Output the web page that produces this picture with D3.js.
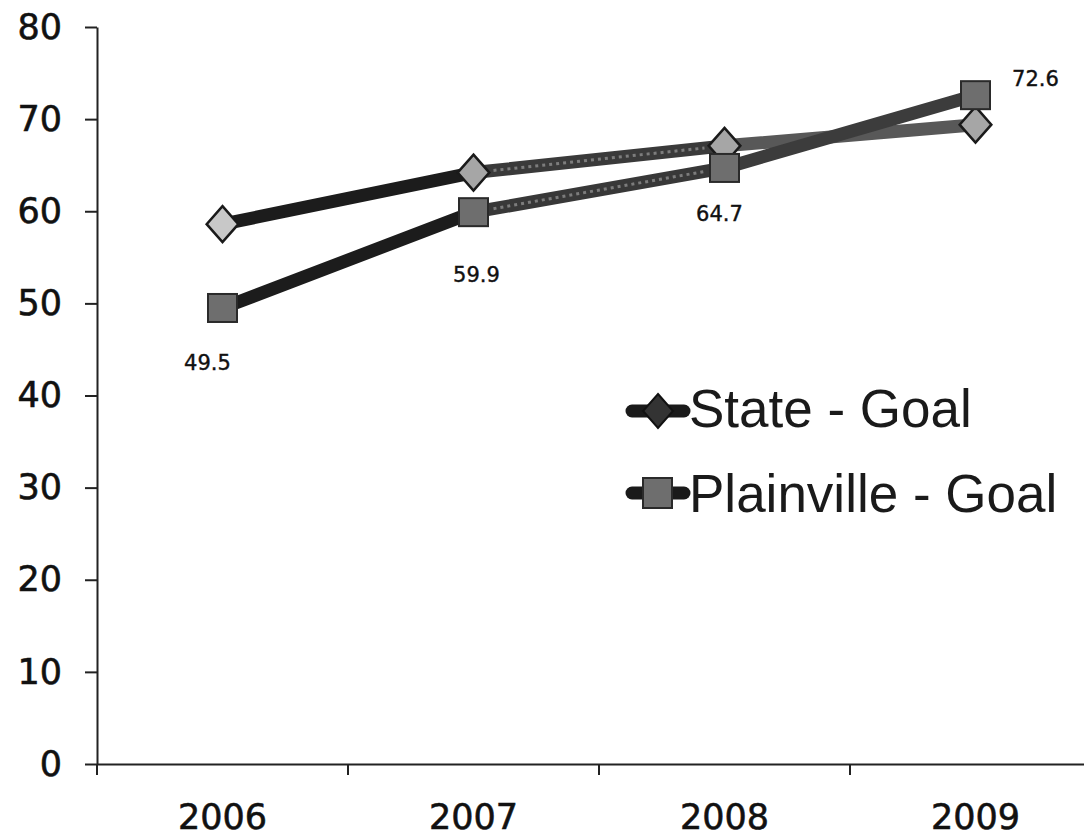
<!DOCTYPE html>
<html>
<head>
<meta charset="utf-8">
<script src="https://cdn.jsdelivr.net/npm/d3@7"></script>
<style>
  html, body { margin: 0; padding: 0; background: #ffffff; }
  svg { display: block; }
</style>
</head>
<body>
<script>
// ---- Data ----
const years = ["2006", "2007", "2008", "2009"];
const stateGoal = [58.6, 64.2, 67.1, 69.4];
const plainvilleGoal = [49.5, 59.9, 64.7, 72.6];
const yTicks = [0, 10, 20, 30, 40, 50, 60, 70, 80];
const seriesNames = ["State - Goal", "Plainville - Goal"];

// ---- Layout ----
const W = 1084, H = 840;
const svg = d3.select("body").append("svg").attr("width", W).attr("height", H);

const x = d3.scaleBand().domain(years).range([97, 1101]);
const y = d3.scaleLinear().domain([0, 80]).range([764, 27]);
const cx = d => x(d) + x.bandwidth() / 2;

// Y axis
const yAxis = svg.append("g").attr("transform", "translate(97,0)")
  .call(d3.axisLeft(y).tickValues(yTicks).tickSize(12).tickSizeOuter(0).tickPadding(23));
yAxis.select(".domain").attr("stroke", "#222").attr("stroke-width", 2);
yAxis.selectAll(".tick line").attr("stroke", "#222").attr("stroke-width", 2);
yAxis.selectAll(".tick text").attr("font-family", "DejaVu Sans, Verdana, sans-serif")
  .attr("font-size", 35).attr("fill", "#111").attr("stroke", "#111").attr("stroke-width", 0.6);

// X axis
const xAxis = svg.append("g").attr("transform", "translate(0,764)")
  .call(d3.axisBottom(x).tickSize(0).tickSizeOuter(0).tickPadding(40));
xAxis.select(".domain").attr("stroke", "#222").attr("stroke-width", 2);
xAxis.selectAll(".tick text").attr("font-family", "DejaVu Sans, Verdana, sans-serif")
  .attr("font-size", 35).attr("fill", "#111").attr("stroke", "#111").attr("stroke-width", 0.6);
// category boundary tick marks
xAxis.selectAll(".bt").data(years).enter().append("line")
  .attr("x1", d => x(d)).attr("x2", d => x(d))
  .attr("y1", 0).attr("y2", 11)
  .attr("stroke", "#222").attr("stroke-width", 2);

// ---- Lines (segment by segment) ----
const segColors = {
  state: ["#1c1c1c", "#3a3a3a", "#585858"],
  plain: ["#1c1c1c", "#383838", "#3c3c3c"]
};
function drawSegs(vals, colors, cls) {
  const segs = d3.range(vals.length - 1).map(i => ({
    x1: cx(years[i]), y1: y(vals[i]), x2: cx(years[i + 1]), y2: y(vals[i + 1]), c: colors[i], i
  }));
  const g = svg.append("g").attr("class", cls);
  g.selectAll("line.s").data(segs).enter().append("line")
    .attr("x1", d => d.x1).attr("y1", d => d.y1)
    .attr("x2", d => d.x2).attr("y2", d => d.y2)
    .attr("stroke", d => d.c).attr("stroke-width", 13).attr("stroke-linecap", "round");
  // speckled texture on middle segment
  g.selectAll("line.t").data(segs.filter(d => d.i === 1)).enter().append("line")
    .attr("x1", d => d.x1 + 20).attr("y1", d => d.y1 + (d.y2 - d.y1) * 20 / (d.x2 - d.x1))
    .attr("x2", d => d.x2 - 20).attr("y2", d => d.y2 - (d.y2 - d.y1) * 20 / (d.x2 - d.x1))
    .attr("stroke", "#9a9a9a").attr("stroke-width", 3).attr("stroke-dasharray", "3 4")
    .attr("opacity", 0.7);
}
drawSegs(stateGoal, segColors.state, "state-line");
drawSegs(plainvilleGoal, segColors.plain, "plain-line");

// ---- Markers ----
const diamond = (s) => `M0,${-s}L${s * 0.88},0L0,${s}L${-s * 0.88},0Z`;
svg.append("g").selectAll("path").data(stateGoal).enter().append("path")
  .attr("transform", (d, i) => `translate(${cx(years[i])},${y(d)})`)
  .attr("d", diamond(18))
  .attr("fill", (d, i) => i === 0 ? "#c8c8c8" : "#a6a6a6")
  .attr("stroke", "#1a1a1a").attr("stroke-width", 2.5);

svg.append("g").selectAll("rect").data(plainvilleGoal).enter().append("rect")
  .attr("x", (d, i) => cx(years[i]) - 14.5).attr("y", d => y(d) - 14)
  .attr("width", 29).attr("height", 28)
  .attr("fill", "#6e6e6e").attr("stroke", "#2a2a2a").attr("stroke-width", 2);

// ---- Data labels (Plainville) ----
const labelOffsets = [[-15, 62], [3, 70], [-5, 53], [60, -9]];
svg.append("g").selectAll("text").data(plainvilleGoal).enter().append("text")
  .attr("x", (d, i) => cx(years[i]) + labelOffsets[i][0])
  .attr("y", (d, i) => y(d) + labelOffsets[i][1])
  .attr("text-anchor", "middle")
  .attr("font-family", "DejaVu Sans, Verdana, sans-serif")
  .attr("font-size", 21).attr("fill", "#111").attr("stroke", "#111").attr("stroke-width", 0.4)
  .text(d => d3.format(".1f")(d));

// ---- Legend ----
const legendRows = [411, 493];
const lg = svg.append("g");
seriesNames.forEach((name, i) => {
  const ly = legendRows[i];
  lg.append("line").attr("x1", 632).attr("x2", 684).attr("y1", ly).attr("y2", ly)
    .attr("stroke", "#1a1a1a").attr("stroke-width", 13).attr("stroke-linecap", "round");
  if (i === 0) {
    lg.append("path").attr("transform", `translate(658,${ly})`).attr("d", diamond(17))
      .attr("fill", "#333").attr("stroke", "#111").attr("stroke-width", 2);
  } else {
    lg.append("rect").attr("x", 643).attr("y", ly - 15).attr("width", 29).attr("height", 30)
      .attr("fill", "#6e6e6e").attr("stroke", "#2a2a2a").attr("stroke-width", 2);
  }
  lg.append("text").attr("x", 689).attr("y", ly + (i === 0 ? 16 : 19))
    .attr("font-family", "Liberation Sans, Arial, sans-serif")
    .attr("font-size", 53).attr("fill", "#1a1a1a")
    .text(name);
});
</script>
</body>
</html>
